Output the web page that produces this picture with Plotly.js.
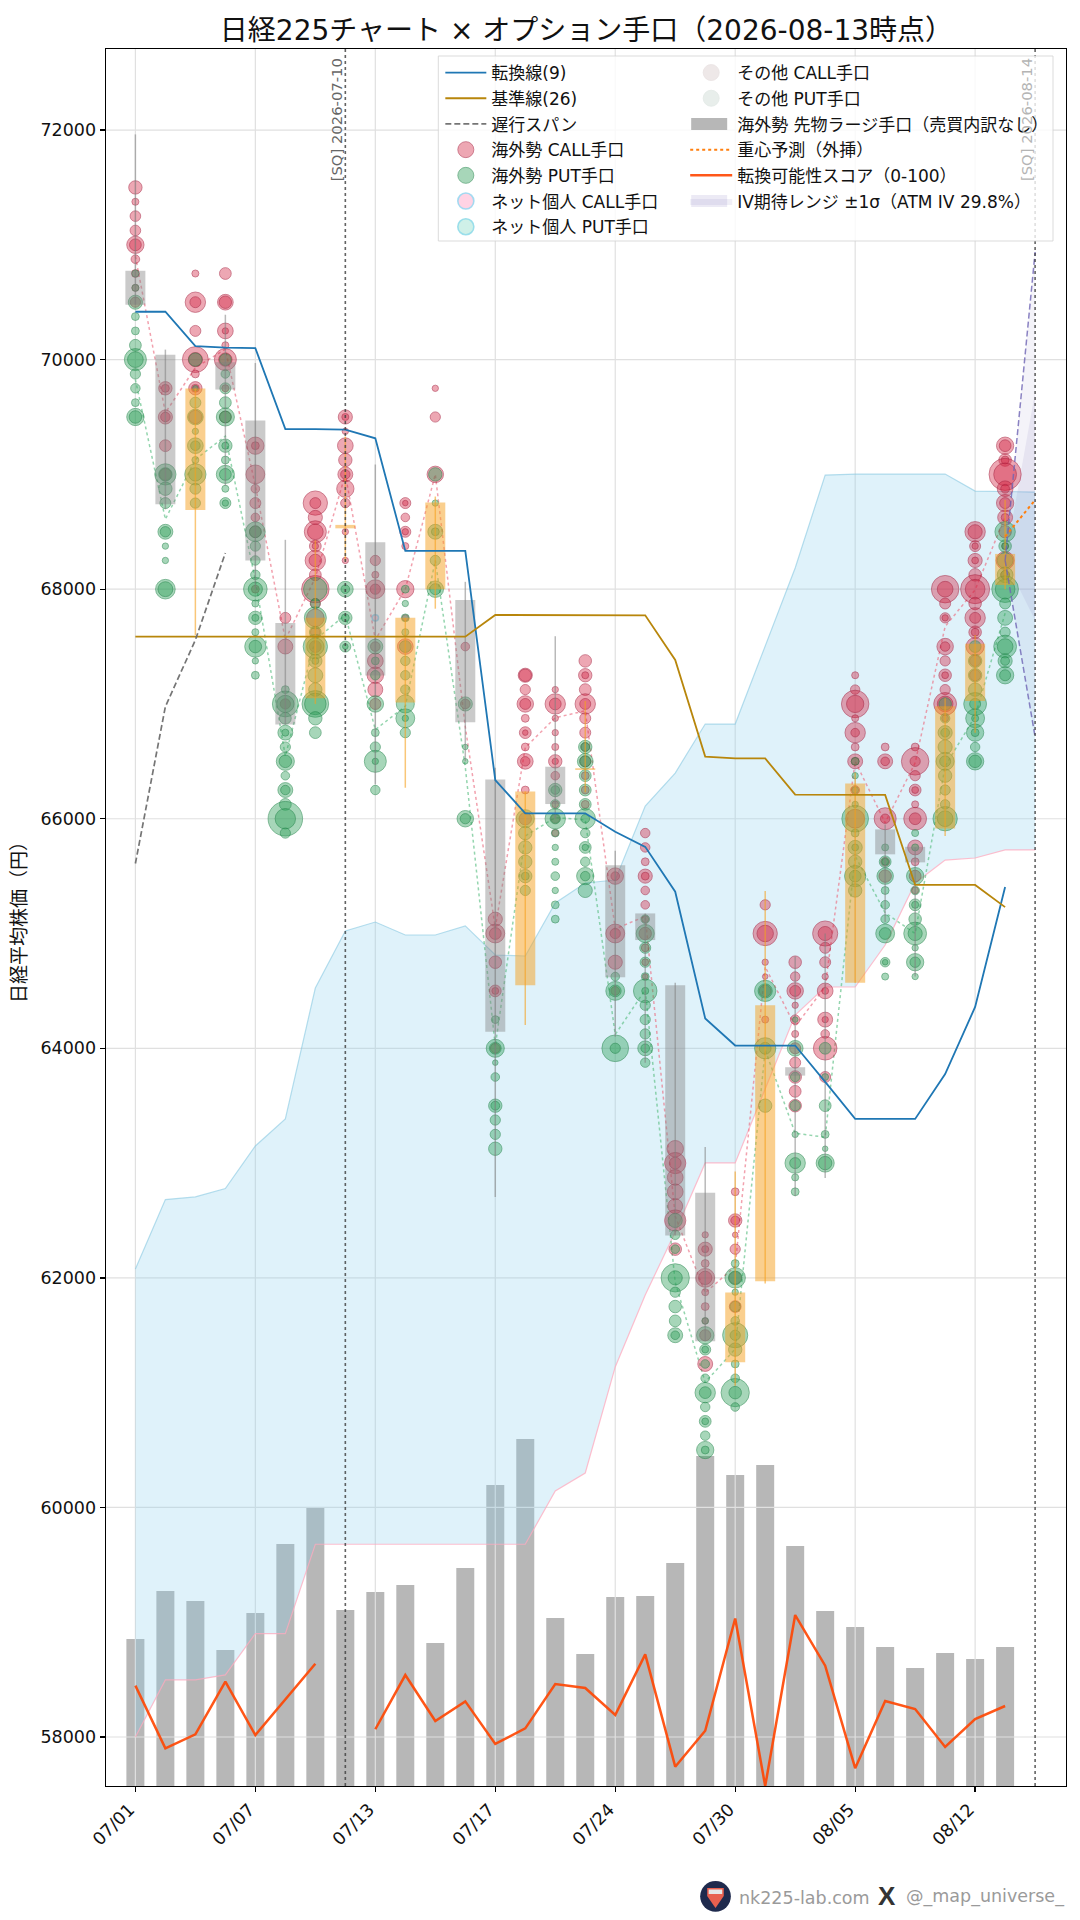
<!DOCTYPE html>
<html>
<head>
<meta charset="utf-8">
<script src="https://cdn.plot.ly/plotly-3.0.1.min.js"></script>
<style>html,body{margin:0;padding:0;background:#fff}</style>
</head>
<body>
<div id="chart" style="width:1080px;height:1920px"></div>
<script>
const tickIndex = [0, 4, 8, 12, 16, 20, 24, 28];
const tickDates = ["07/01", "07/07", "07/13", "07/17", "07/24", "07/30", "08/05", "08/12"];
const priceTicks = [58000, 60000, 62000, 64000, 66000, 68000, 70000, 72000];
const days = [...Array(30).keys()];

const futuresLarge = [2940, 3900, 3700, 2720, 3460, 4840, 5560, 3520, 3880, 4020, 2860, 4360, 6020, 6940, 3360, 2640, 3780, 3800, 4460, 6600, 6220, 6420, 4800, 3500, 3180, 2780, 2360, 2660, 2540, 2780];
const score = [58.7, 22, 30.2, 61, 29.8, 50.9, 71.5, null, 33.2, 64.9, 38, 49.5, 24.6, 33.7, 59.6, 57.3, 41.5, 77, 11.3, 32.3, 98, 0, 100, 70.4, 10.4, 49.7, 45, 22.8, 39.2, 46.8];

const tenkan = [70417, 70417, 70118, 70105, 70100, 69395, 69395, 69390, 69314, 68333, 68333, 68333, 66337, 66047, 66047, 66047, 65886, 65755, 65364, 64260, 64024, 64024, 64024, 63707, 63385, 63385, 63385, 63776, 64360, 65405];
const kijun = [67586, 67586, 67586, 67586, 67586, 67586, 67586, 67586, 67586, 67586, 67586, 67586, 67775, 67775, 67775, 67775, 67775, 67772, 67383, 66541, 66525, 66525, 66210, 66207, 66207, 66207, 65423, 65423, 65423, 65230];
const chikou = [65610, 66977, 67557, 68315];
const senkouUpper = [62078, 62682, 62705, 62778, 63149, 63384, 64525, 65022, 65100, 64987, 64987, 65066, 64813, 64804, 65266, 65440, 65466, 66111, 66398, 66825, 66825, 67496, 68184, 68994, 69003, 69003, 69003, 69003, 68855, 68850, 68846];
const senkouLower = [58000, 58497, 58497, 58541, 58900, 58900, 59679, 59679, 59679, 59679, 59679, 59679, 59679, 59679, 60143, 60300, 61224, 61851, 62400, 63001, 63001, 63637, 64290, 64534, 64534, 64900, 65440, 65640, 65658, 65728, 65728];

const callCentroid = [70900, 69537, 69930, 70090, 68900, 67560, 68100, 69000, 67560, 68000, 69000, 66800, 65050, 66620, 66880, 66940, 65040, 65150, 62536, 61870, 62100, 64710, 64190, 64536, 66500, 65965, 66487, 67675, 67994, 68630];
const putCentroid = [69826, 68609, 69130, 69333, 68078, 66544, 67560, 67775, 66776, 66980, 68250, 66450, 64020, 65850, 66010, 65990, 64120, 64510, 61960, 61090, 61380, 63985, 63260, 63225, 65675, 65180, 65000, 66458, 66893, 67790];
const forecast = [68458, 68777];
const ivStart = 68250, ivOuterUp = 70937, ivOuterDown = 66712, ivInnerUp = 69717, ivInnerDown = 67730;

// candle: [day, body top, body bottom, wick top, wick bottom]
const grayCandles = [
  [0, 70774, 70478, 71962, 70478], [1, 70043, 68739, 70087, 68696], [3, 69977, 69739, 70391, 68900],
  [4, 69470, 68250, 69970, 68000], [5, 67705, 66820, 68430, 66820], [8, 68408, 67247, 69087, 66300],
  [11, 67905, 66840, 68064, 66500], [12, 66342, 64145, 66445, 62705], [14, 66453, 66128, 67590, 66000],
  [16, 65594, 64620, 65720, 64100], [17, 65175, 64943, 65175, 63875], [18, 64550, 62368, 64570, 62368],
  [19, 62742, 61448, 63140, 61448], [22, 63835, 63762, 64800, 62710], [23, 64000, 64000, 65000, 62870],
  [25, 65907, 65690, 65950, 65100], [26, 65755, 65620, 65750, 64625]
];
const orangeCandles = [
  [2, 69748, 68690, 69748, 67600], [6, 67750, 67050, 68425, 67000], [7, 68560, 68530, 69330, 68250],
  [9, 67750, 67013, 67750, 66270], [10, 68754, 68000, 68807, 67830], [13, 66238, 64550, 66238, 64203],
  [15, 66440, 66425, 67025, 66230], [20, 61873, 61265, 62927, 61060], [21, 64375, 61970, 65370, 61950],
  [24, 66307, 64571, 66400, 64571], [27, 66980, 65915, 67050, 65850], [28, 67525, 67025, 67600, 66750],
  [29, 68307, 68037, 68777, 68000]
];

// one row per day: [strike, lots, lots of another broker at that strike...]
const foreignCall = [
  [[71500,1160],[71375,320],[71250,730],[71125,730],[71000,1940,900],[70875,480],[70750,400],[70625,320],[70500,680]],
  [[69750,1160,400],[69500,1300,580],[69250,900],[69000,900]],
  [[70750,320],[70500,2700,780],[70250,780],[70000,4360,1300],[69875,400],[69750,1160,400],[69500,1160]],
  [[70750,900],[70500,1600,1000],[70250,1600,260],[70125,320],[70000,3140,1160],[69750,320],[69500,900]],
  [[69250,1940,400],[69000,2300],[68875,480],[68750,780],[68625,480],[68500,900],[68000,400]],
  [[67750,780],[67500,1440],[67000,680]],
  [[68750,3840,780],[68625,1300],[68500,3140,1600],[68375,900,260],[68250,2700,1020],[68125,900],[68000,4900],[67875,680],[67750,2000],[67625,600],[67500,900]],
  [[69500,1300,320],[69375,260],[69250,1600],[69125,1160],[69000,1440,580],[68875,1940],[68750,580],[68500,260],[68250,260]],
  [[68250,680],[68125,320],[68000,2300,680],[67500,600],[67375,1600],[67250,1760],[67125,1440],[67000,800]],
  [[68750,780,200],[68625,480],[68500,780,260],[68375,320],[68000,1940],[67750,260],[67500,1600]],
  [[69750,260],[69500,680],[69000,1760]],
  [[67500,480],[67000,600]],
  [[65125,1300],[65000,2300,900],[64750,1020],[64500,900,300],[64000,600]],
  [[67250,1300,1000],[67125,680],[67000,1760,780],[66875,400],[66750,900,200],[66625,400],[66500,1600,580],[66250,400],[66000,1000]],
  [[67125,260],[67000,2700,900],[66875,260],[66750,260],[66625,320],[66500,1160,260],[66375,480],[66125,300],[66000,500],[65875,300]],
  [[67375,1020],[67250,1160,320],[67125,900],[67000,2700,780],[66875,780],[66750,780],[66625,500],[66500,800],[66375,400],[66250,400],[66125,400]],
  [[65500,1760,480],[65000,2300,680],[64750,1300],[64500,500]],
  [[65875,580],[65750,580],[65625,400],[65500,1300,400],[65375,480],[65250,480],[65125,300],[65000,1000],[64875,400],[64750,300],[64625,200]],
  [[63125,1760],[63000,2920,900],[62875,1600],[62750,1600],[62625,1440],[62500,2920],[62250,1020]],
  [[62375,260],[62250,1300,320],[62125,400],[62000,2300,1160],[61875,320],[61750,400],[61625,250],[61500,800],[61250,1440]],
  [[62750,400],[62500,1160,500],[62375,200],[62250,680],[62000,1000],[61750,900]],
  [[65250,680],[65000,3840,1760],[64750,260],[64625,200],[64500,900],[64250,320]],
  [[64750,1020],[64625,580],[64500,1760,780],[64375,260],[64250,580],[64125,320],[64000,800],[63875,780],[63750,1020],[63625,900],[63500,1020]],
  [[65000,4100,1300],[64875,780],[64750,780],[64625,260],[64500,1600,300],[64250,1440,260],[64125,480],[64000,3600],[63750,780]],
  [[67250,320],[67125,580],[67000,4900,1940],[66875,320],[66750,2700,480],[66625,400],[66500,1440,400],[66250,500],[66000,2300]],
  [[66625,400],[66500,1440,480],[66000,3140,580],[65625,500],[65500,1000]],
  [[66625,400],[66500,4900,680],[66375,680],[66250,900,300],[66125,320],[66000,3360,900],[65750,1440],[65625,400],[65500,900],[65375,300]],
  [[68000,4900,1600],[67875,780],[67750,680,260],[67500,1760,580],[67375,680],[67250,1020,300],[67125,680],[67000,3360,1600],[66875,300]],
  [[68500,2700,1300],[68375,780,260],[68250,1300,300],[68125,1020],[68000,5480,2500],[67875,1020],[67750,2700,780],[67625,1020,400],[67500,2120],[67375,800],[67250,800]],
  [[69250,1940,900],[69125,1020,400],[69000,6720,3360],[68875,1600,500],[68750,1940,780],[68625,1440,400],[68500,1000],[68375,300],[68250,2120],[68125,500]]
];
const foreignPut = [
  [[70750,320],[70625,320],[70500,1300],[70375,400],[70250,400],[70125,900],[70000,3140,1600],[69875,680],[69750,580],[69625,400],[69500,1940,1020]],
  [[69000,2920,1160],[68875,1160],[68750,780],[68500,1440,700],[68375,260],[68250,260],[68000,2500,1440]],
  [[70000,1160],[69750,200],[69625,780],[69500,1600],[69375,260],[69250,1600,600],[69125,320],[69000,2920,1160],[68875,780],[68750,680]],
  [[70000,900],[69875,480],[69750,780],[69625,900],[69500,2120,900],[69250,1160,320],[69125,400],[69000,2120,900],[68875,320],[68750,780,260]],
  [[68500,2500,900],[68375,680],[68250,580],[68125,580],[68000,3600,1300],[67875,320],[67750,1160,320],[67625,320],[67500,2920,1020],[67375,260],[67250,400]],
  [[67125,400],[67000,4360,1940],[66875,900],[66750,1440,320],[66625,680],[66500,2120,1020],[66375,480],[66250,1440,580],[66125,900],[66000,7740,2700],[65875,680]],
  [[68000,3600],[67875,600],[67750,3140],[67625,900],[67500,3840,1940],[67375,1160,320],[67250,1440],[67125,1160],[67000,4620,3000],[66875,1160],[66750,900]],
  [[68000,1600,480],[67750,1160,400],[67500,780,200]],
  [[67500,1440],[67375,400],[67250,580],[67000,1760],[66750,400],[66625,680],[66500,3140,260],[66250,580]],
  [[68000,400],[67875,260],[67750,400],[67625,320],[67500,900],[67375,580],[67250,580],[67125,580],[67000,2120],[66875,2300,260],[66750,680]],
  [[69000,1160],[68750,260],[68500,1440,400],[68250,680],[68000,1760,780]],
  [[67000,1300],[66625,200],[66500,200],[66000,1760,680]],
  [[64250,400],[64000,2120,900],[63875,200],[63750,480],[63500,1160,500],[63375,680],[63250,680],[63125,1160]],
  [[66000,2120],[65875,1160],[65750,1160],[65625,1160],[65500,1160,400],[65375,680]],
  [[66250,1160,480],[66125,580],[66000,2700,680],[65875,400],[65750,260],[65625,320],[65500,480],[65375,260],[65250,400],[65125,400]],
  [[66625,1160,500],[66500,1600,780],[66375,900],[66250,900],[66125,900],[66000,2700,480],[65875,580],[65750,900,260],[65625,580],[65500,1940,580],[65375,1300]],
  [[64625,480],[64500,2300,900],[64000,4620,680]],
  [[65125,480],[65000,2120],[64875,780],[64750,680],[64625,400],[64500,3600,320],[64375,680],[64250,680],[64125,680],[64000,1440,480],[63875,580]],
  [[62500,1300],[62375,580],[62250,480],[62000,5180,1300],[61875,680],[61750,1020],[61625,900],[61500,1440,480]],
  [[61625,300],[61500,1940],[61375,780,300],[61250,480],[61125,480],[61000,2700,900],[60875,580],[60750,900,300],[60625,580],[60500,1940,400]],
  [[62125,400],[62000,2700,1200],[61875,260],[61750,700],[61625,480],[61500,4100,680],[61375,1160],[61250,400],[61125,480],[61000,5180,1020],[60875,480]],
  [[64500,2920,1300],[64000,2920,900],[63500,1160]],
  [[64250,200],[64000,1600],[63750,580],[63500,700],[63250,260],[63000,2700,780],[62875,320],[62750,400]],
  [[64000,900],[63750,300],[63500,900],[63250,400],[63125,200],[63000,2120,1160]],
  [[66500,400],[66375,260],[66250,300],[66125,260],[66000,4620],[65875,400],[65750,1300,300],[65625,1160],[65500,2920,900],[65375,1160]],
  [[65750,320],[65625,900,300],[65500,1760],[65375,400],[65250,480],[65125,480],[65000,2300,900],[64750,580,200],[64625,320]],
  [[65875,320],[65750,320],[65500,1940],[65375,480],[65250,900,320],[65125,1020],[65000,3360,1300],[64875,260],[64750,1940,700],[64625,260]],
  [[67000,1020],[66875,580],[66750,1300,500],[66625,1300],[66500,2120,780],[66375,1160],[66250,680],[66125,580],[66000,3840,1600]],
  [[67500,900],[67375,1160],[67250,1160],[67125,1160],[67000,3360,780],[66875,2300,320],[66750,1940,400],[66625,580],[66500,1940,1020]],
  [[68500,2700],[68375,1020,300],[68250,1600],[68125,1600,500],[68000,4620,2500],[67875,780],[67750,1440],[67625,680],[67500,3360,1600],[67375,1300,500],[67250,1940,780]]
];
const retailCallDay = [8], retailCallStrike = [67750], retailCallLots = [260];

// plot area in the page, for the decorations only
const W = 1080, H = 1920, L = 105.5, R = 1066, T = 49, B = 1786;
const px = v => (v - L) / (R - L);
const py = v => 1 - (v - T) / (B - T);
const jp = 'DejaVu Sans, "Noto Sans CJK JP"';

function bubbles(rows) {
  const x = [], y = [], s = [];
  rows.forEach((dayRows, d) => dayRows.forEach(r => {
    r.slice(1).forEach(lots => { x.push(d); y.push(r[0]); s.push(lots); });
  }));
  return { x, y, s };
}
function candleBodies(rows) {
  const x = [], y = [];
  rows.forEach(r => { x.push(r[0], r[0], null); y.push(r[1], r[2], null); });
  return { x, y };
}
function candleWicks(rows) {
  const x = [], y = [];
  rows.forEach(r => { x.push(r[0], r[0], null); y.push(r[3], r[4], null); });
  return { x, y };
}

const gridX = [], gridY = [];
priceTicks.forEach(p => { gridX.push(-0.98, 31.03, null); gridY.push(p, p, null); });
tickIndex.forEach(i => { gridX.push(i, i, null); gridY.push(57573, 72706, null); });

const fc = bubbles(foreignCall), fp = bubbles(foreignPut);
const SIZEREF = 13;
function bubbleTrace(name, x, y, s, fill, edge, legend, rank, edgeWidth) {
  return {
    name, x, y, type: "scatter", mode: "markers", legend, legendrank: rank, legendgroup: name,
    marker: { size: s, sizemode: "area", sizeref: SIZEREF, color: fill, line: { color: edge, width: edgeWidth || 1 } },
    hoverinfo: "x+y+name"
  };
}
function lineTrace(name, x, y, color, width, dash, legend, rank) {
  return {
    name, x, y, type: "scatter", mode: "lines", legend, legendrank: rank, legendgroup: name,
    line: { color, width, dash: dash || "solid" }, connectgaps: false
  };
}
const quiet = { showlegend: false, hoverinfo: "skip" };

const traces = [
  { name: "海外勢 先物ラージ手口（売買内訳なし）", x: days, y: futuresLarge, type: "bar", yaxis: "y2", width: 0.6, marker: { color: "rgb(183,183,183)" }, legend: "legend2", legendrank: 3, legendgroup: "fut" },
  { x: gridX, y: gridY, type: "scatter", mode: "lines", line: { color: "rgb(224,224,224)", width: 1.2 }, ...quiet },
  { x: [...days, 30], y: senkouUpper, type: "scatter", mode: "lines", line: { color: "rgba(135,200,225,0.6)", width: 1.2 }, ...quiet },
  { x: [...days, 30], y: senkouLower, type: "scatter", mode: "lines", fill: "tonexty", fillcolor: "rgba(135,206,235,0.27)", line: { color: "rgba(255,170,190,0.75)", width: 1.2 }, ...quiet },
  { x: [29, 30, 30], y: [ivStart, ivOuterUp, ivOuterDown], type: "scatter", mode: "lines", fill: "toself", fillcolor: "rgba(130,120,190,0.09)", line: { width: 0 }, ...quiet },
  { name: "IV期待レンジ ±1σ（ATM IV 29.8%）", x: [29, 30, 30], y: [ivStart, ivInnerUp, ivInnerDown], type: "scatter", mode: "lines", fill: "toself", fillcolor: "rgba(130,120,190,0.12)", line: { width: 0 }, legend: "legend2", legendrank: 6, legendgroup: "iv", hoverinfo: "skip" },
  { x: days, y: callCentroid, type: "scatter", mode: "lines", line: { color: "rgba(235,110,130,0.65)", width: 1.5, dash: "dot" }, ...quiet },
  { x: days, y: putCentroid, type: "scatter", mode: "lines", line: { color: "rgba(90,190,130,0.65)", width: 1.5, dash: "dot" }, ...quiet },
  bubbleTrace("海外勢 CALL手口", fc.x, fc.y, fc.s, "rgba(210,30,60,0.55)", "rgba(165,30,60,0.75)", "legend", 4),
  bubbleTrace("海外勢 PUT手口", fp.x, fp.y, fp.s, "rgba(46,160,90,0.6)", "rgba(30,130,70,0.75)", "legend", 5),
  bubbleTrace("ネット個人 CALL手口", retailCallDay, retailCallStrike, retailCallLots, "rgba(255,182,210,0.85)", "rgba(110,200,235,0.9)", "legend", 6, 1.6),
  bubbleTrace("ネット個人 PUT手口", [null], [null], [260], "rgba(170,230,215,0.8)", "rgba(100,205,225,0.9)", "legend", 7, 1.6),
  bubbleTrace("その他 CALL手口", [null], [null], [260], "rgba(225,215,215,0.8)", "rgba(225,215,215,0.8)", "legend2", 1),
  bubbleTrace("その他 PUT手口", [null], [null], [260], "rgba(215,225,220,0.8)", "rgba(215,225,220,0.8)", "legend2", 2),
  { ...candleWicks(grayCandles), type: "scatter", mode: "lines", line: { color: "rgba(128,128,128,0.55)", width: 1.5 }, ...quiet },
  { ...candleWicks(orangeCandles), type: "scatter", mode: "lines", line: { color: "rgba(245,160,30,0.6)", width: 1.5 }, ...quiet },
  { ...candleBodies(grayCandles), type: "scatter", mode: "lines", line: { color: "rgba(128,128,128,0.42)", width: 20 }, ...quiet },
  { ...candleBodies(orangeCandles), type: "scatter", mode: "lines", line: { color: "rgba(245,160,30,0.5)", width: 20 }, ...quiet },
  lineTrace("転換線(9)", days, tenkan, "#1f77b4", 1.8, null, "legend", 1),
  lineTrace("基準線(26)", days, kijun, "#b8860b", 1.8, null, "legend", 2),
  lineTrace("遅行スパン", [0, 1, 2, 3], chikou, "rgba(110,110,110,0.95)", 1.7, "6px,3px", "legend", 3),
  lineTrace("重心予測（外挿）", [29, 30], forecast, "#ff7f0e", 2, "dot", "legend2", 4),
  { x: [29, 30], y: [ivStart, ivOuterUp], type: "scatter", mode: "lines", line: { color: "rgba(110,100,180,0.8)", width: 1.5, dash: "6px,3px" }, ...quiet },
  { x: [29, 30], y: [ivStart, ivOuterDown], type: "scatter", mode: "lines", line: { color: "rgba(110,100,180,0.8)", width: 1.5, dash: "6px,3px" }, ...quiet },
  { ...lineTrace("転換可能性スコア（0-100）", days, score, "#ff4500", 2.5, null, "legend2", 5), yaxis: "y3", opacity: 0.9 }
];

const layout = {
  width: W, height: H,
  paper_bgcolor: "#fff", plot_bgcolor: "#fff",
  margin: { l: L, r: W - R, t: T, b: H - B, pad: 0 },
  font: { family: jp, color: "#111" },
  title: { text: "日経225チャート × オプション手口（2026-08-13時点）", x: 0.543, xanchor: "center", y: 1 - 30 / H, yanchor: "middle", font: { size: 28, family: jp, color: "#111" } },
  showlegend: true,
  barmode: "overlay",
  xaxis: {
    range: [-0.98, 31.03], tickmode: "array", tickvals: tickIndex, ticktext: tickDates, tickangle: -45,
    tickfont: { family: "DejaVu Sans", size: 17.5, color: "#111" }, ticklabelshift: -6,
    showgrid: false, zeroline: false, showline: true, mirror: true, linecolor: "#000", linewidth: 1.4,
    ticks: "outside", ticklen: 5, tickwidth: 1.3, tickcolor: "#000", anchor: "y"
  },
  yaxis: {
    overlaying: "y2", range: [57573, 72706], tickmode: "array", tickvals: priceTicks, ticktext: priceTicks.map(String),
    tickfont: { family: "DejaVu Sans", size: 17.5, color: "#111" },
    title: { text: "日経平均株価（円）", font: { size: 19, family: jp, color: "#111" }, standoff: 8 },
    showgrid: false, zeroline: false, showline: true, mirror: true, linecolor: "#000", linewidth: 1.4,
    ticks: "outside", ticklen: 5, tickwidth: 1.3, tickcolor: "#000", automargin: false
  },
  yaxis2: { range: [0, 34740], visible: false, showgrid: false, zeroline: false },
  yaxis3: { range: [0, 1016], visible: false, overlaying: "y2", showgrid: false, zeroline: false },
  legend: {
    x: px(440), xanchor: "left", y: py(55), yanchor: "top", bgcolor: "rgba(0,0,0,0)", borderwidth: 0,
    font: { size: 17, family: jp, color: "#111" }, itemwidth: 41, itemsizing: "trace", tracegroupgap: 0.6
  },
  legend2: {
    x: px(685), xanchor: "left", y: py(55), yanchor: "top", bgcolor: "rgba(0,0,0,0)", borderwidth: 0,
    font: { size: 17, family: jp, color: "#111" }, itemwidth: 42, itemsizing: "trace", tracegroupgap: 0.6
  },
  shapes: [
    { type: "line", xref: "x", yref: "paper", x0: 7, x1: 7, y0: 0, y1: 1, layer: "above", line: { color: "rgba(60,60,60,0.8)", width: 1.6, dash: "dot" } },
    { type: "line", xref: "x", yref: "paper", x0: 30, x1: 30, y0: 0, y1: 1, layer: "above", line: { color: "rgba(60,60,60,0.8)", width: 1.6, dash: "dot" } },
    { type: "rect", xref: "paper", yref: "paper", x0: px(438), x1: px(1053), y0: py(56), y1: py(241), layer: "above", fillcolor: "rgba(255,255,255,0.8)", line: { color: "rgba(210,210,210,0.8)", width: 1 } },
    { type: "rect", xref: "paper", yref: "paper", x0: px(691), x1: px(727), y0: py(118), y1: py(130), layer: "above", fillcolor: "rgb(183,183,183)", line: { width: 0 } },
    { type: "rect", xref: "paper", yref: "paper", x0: px(691), x1: px(727), y0: py(195), y1: py(207), layer: "above", fillcolor: "rgba(200,195,225,0.35)", line: { width: 0 } },
    { type: "circle", xref: "paper", yref: "paper", x0: px(700), x1: px(730.7), y0: py(1881), y1: py(1911.7), layer: "above", fillcolor: "#1f2a4d", line: { width: 0 } },
    { type: "path", xref: "paper", yref: "paper", path: `M ${px(707)} ${py(1888)} L ${px(723.6)} ${py(1888)} L ${px(723.6)} ${py(1896)} L ${px(715.3)} ${py(1908)} L ${px(707)} ${py(1896)} Z`, layer: "above", fillcolor: "#e8604f", line: { width: 0 } },
    { type: "rect", xref: "paper", yref: "paper", x0: px(708.5), x1: px(722), y0: py(1889.5), y1: py(1894), layer: "above", fillcolor: "#e6e6e6", line: { width: 0 } }
  ],
  annotations: [
    { text: "[SQ] 2026-07-10", xref: "x", yref: "paper", x: 7, y: py(56), xanchor: "right", yanchor: "top", textangle: -90, showarrow: false, xshift: 2, font: { family: "DejaVu Sans", size: 14.8, color: "#666" } },
    { text: "[SQ] 2026-08-14", xref: "x", yref: "paper", x: 30, y: py(56), xanchor: "right", yanchor: "top", textangle: -90, showarrow: false, xshift: 2, font: { family: "DejaVu Sans", size: 14.8, color: "#b4b4b4" } },
    { text: "nk225-lab.com", xref: "paper", yref: "paper", x: px(737), y: py(1898), xanchor: "left", yanchor: "middle", showarrow: false, font: { family: "DejaVu Sans", size: 17.5, color: "#9a9a9a" } },
    { text: "<b>X</b>", xref: "paper", yref: "paper", x: px(886.5), y: py(1896), xanchor: "center", yanchor: "middle", showarrow: false, font: { family: "Liberation Sans", size: 26, color: "#333" } },
    { text: "@_map_universe_", xref: "paper", yref: "paper", x: px(1066), y: py(1896), xanchor: "right", yanchor: "middle", showarrow: false, font: { family: "DejaVu Sans", size: 17.5, color: "#9a9a9a" } }
  ]
};

Plotly.newPlot("chart", traces, layout, { displayModeBar: false, staticPlot: true });
</script>
</body>
</html>
